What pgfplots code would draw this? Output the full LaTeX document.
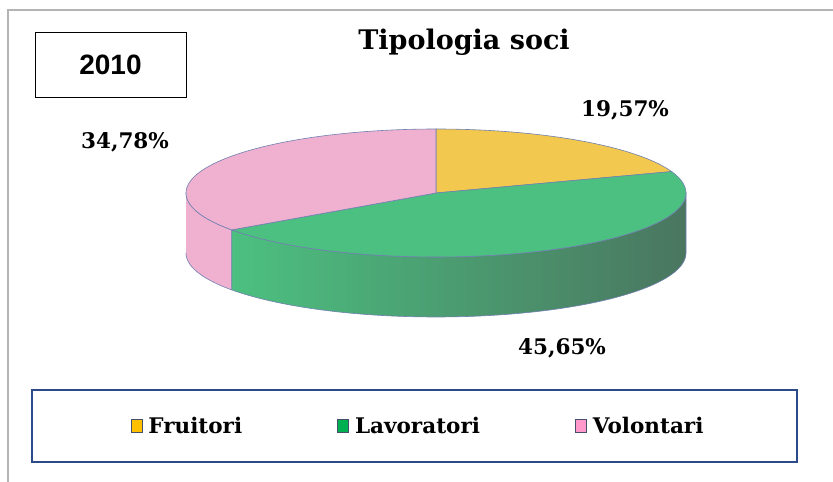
\documentclass[border=0pt]{standalone}
\usepackage{fontspec}
\usepackage{pgfplots}
\pgfplotsset{compat=1.18}
\setmainfont{DejaVu Serif}
\newfontfamily\slab{DejaVu Serif}
\newfontfamily\arialb{Liberation Sans}
\definecolor{cY}{HTML}{F2C84E}
\definecolor{cG}{HTML}{4CC080}
\definecolor{cP}{HTML}{F0B0D0}
\definecolor{cGd}{HTML}{4A7660}
\definecolor{edge}{HTML}{7080B0}
\definecolor{legY}{HTML}{FFC000}
\definecolor{legG}{HTML}{00B050}
\definecolor{legP}{HTML}{FF99CC}
\definecolor{legedge}{HTML}{44506E}
\definecolor{frame}{HTML}{B4B4B4}
\definecolor{lbox}{HTML}{2A4A8A}
\begin{document}
\begin{tikzpicture}
\useasboundingbox (0,0) rectangle (833pt,482pt);
% data (percent)
\def\vF{19.57}
\def\vL{45.65}
\def\vV{34.78}
\pgfmathsetmacro\angA{90}
\pgfmathsetmacro\angB{90-3.6*\vF}
\pgfmathsetmacro\angC{\angB-3.6*\vL}
\pgfmathsetmacro\angD{\angC-3.6*\vV}
\def\pcx{436}
\def\pcy{289}
\def\pra{250}
\def\prb{64}
\def\pdep{60}
\begin{axis}[
  width=833pt, height=482pt, scale only axis,
  xmin=0, xmax=833, ymin=0, ymax=482,
  axis lines=none, clip=false,
  legend image code/.code={\draw[#1,draw=legedge,line width=0.9pt] (0pt,-6.5pt) rectangle (11pt,6.5pt);},
  legend style={at={(axis cs:418,56)}, anchor=center, draw=none, fill=none,
    legend columns=3, font=\slab\bfseries\fontsize{21.5}{24}\selectfont,
    nodes={inner sep=2pt},
    /tikz/every odd column/.append style={column sep=4pt},
    /tikz/every even column/.append style={column sep=93pt}},
]
\addlegendimage{fill=legY}\addlegendentry{Fruitori}
\addlegendimage{fill=legG}\addlegendentry{Lavoratori}
\addlegendimage{fill=legP}\addlegendentry{Volontari}
% side walls (top arc then bottom arc back)
\addplot[left color=cG, right color=cGd, draw=edge, line width=0.6pt, forget plot, domain=0:201, samples=202]
 ({\pcx+\pra*cos((\angC)+(0-(\angC))*(x<100.5 ? x/100 : (201-x)/100))},
  {\pcy-(x>100.5 ? \pdep : 0)+\prb*sin((\angC)+(0-(\angC))*(x<100.5 ? x/100 : (201-x)/100))});
\addplot[fill=cP, draw=edge, line width=0.6pt, forget plot, domain=0:201, samples=202]
 ({\pcx+\pra*cos(-180+((\angC)+180)*(x<100.5 ? x/100 : (201-x)/100))},
  {\pcy-(x>100.5 ? \pdep : 0)+\prb*sin(-180+((\angC)+180)*(x<100.5 ? x/100 : (201-x)/100))});
% top faces (centre, arc, centre)
\addplot[fill=cY, draw=edge, line width=0.6pt, forget plot, domain=0:101, samples=102]
 ({\pcx+and(x>0.5,x<100.5)*\pra*cos((\angB)+((\angA)-(\angB))*(x-1)/99)},
  {\pcy+and(x>0.5,x<100.5)*\prb*sin((\angB)+((\angA)-(\angB))*(x-1)/99)});
\addplot[fill=cG, draw=edge, line width=0.6pt, forget plot, domain=0:101, samples=102]
 ({\pcx+and(x>0.5,x<100.5)*\pra*cos((\angC)+((\angB)-(\angC))*(x-1)/99)},
  {\pcy+and(x>0.5,x<100.5)*\prb*sin((\angC)+((\angB)-(\angC))*(x-1)/99)});
\addplot[fill=cP, draw=edge, line width=0.6pt, forget plot, domain=0:101, samples=102]
 ({\pcx+and(x>0.5,x<100.5)*\pra*cos((\angD)+((\angC)-(\angD))*(x-1)/99)},
  {\pcy+and(x>0.5,x<100.5)*\prb*sin((\angD)+((\angC)-(\angD))*(x-1)/99)});
% labels
\node[font=\slab\bfseries\fontsize{21.5}{24}\selectfont] at (axis cs:625,372) {19,57\%};
\node[font=\slab\bfseries\fontsize{21.5}{24}\selectfont] at (axis cs:125,340) {34,78\%};
\node[font=\slab\bfseries\fontsize{21.5}{24}\selectfont] at (axis cs:562,134) {45,65\%};
\node[font=\slab\bfseries\fontsize{27}{30}\selectfont] at (axis cs:464,440) {Tipologia soci};
% year box
\node[draw=black, line width=0.8pt, minimum width=151pt, minimum height=65pt, inner sep=0pt, font=\arialb\bfseries\fontsize{28}{32}\selectfont] at (axis cs:110.5,417.5) {2010};
% legend frame and outer frame
\draw[lbox, line width=1.2pt] (axis cs:32,20) rectangle (axis cs:797,92);
\draw[frame, line width=2pt] (axis cs:8,0) -- (axis cs:8,472) -- (axis cs:833,472);
\end{axis}
\end{tikzpicture}
\end{document}
